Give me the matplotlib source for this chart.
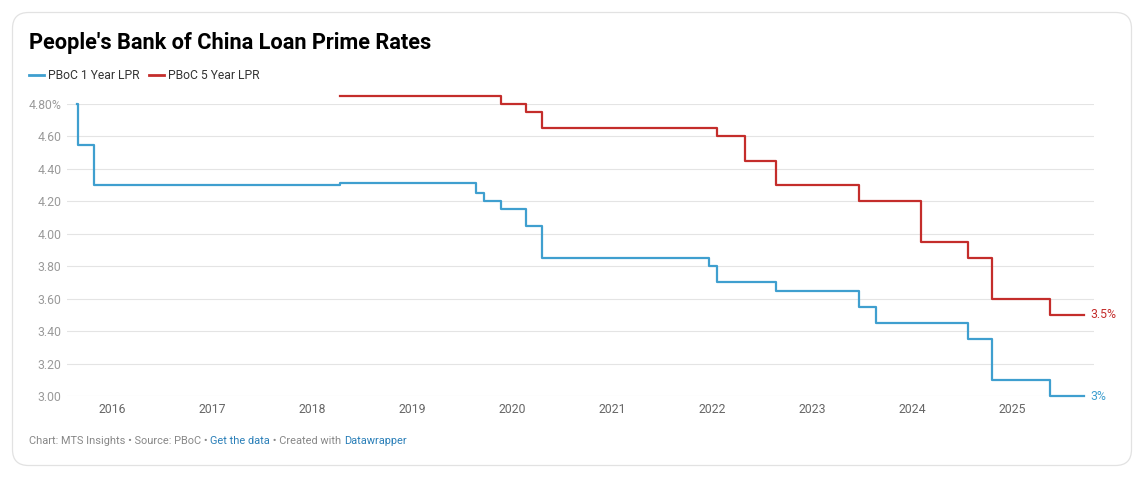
import pandas as pd
import matplotlib
matplotlib.use("Agg")
import matplotlib.pyplot as plt
import matplotlib.dates as mdates
from matplotlib.patches import FancyBboxPatch

plt.rcParams['font.family'] = ['Roboto', 'DejaVu Sans']

# 1 year LPR (step changes)
lpr1_dates = ["2015-08-26", "2015-08-27", "2015-10-24", "2018-04-12", "2019-08-20",
              "2019-09-20", "2019-11-20", "2020-02-20", "2020-04-20", "2021-12-20",
              "2022-01-20", "2022-08-22", "2023-06-20", "2023-08-21", "2024-07-22",
              "2024-10-21", "2025-05-20", "2025-09-22"]
lpr1_rates = [4.80, 4.55, 4.30, 4.31, 4.25, 4.20, 4.15, 4.05, 3.85, 3.80,
              3.70, 3.65, 3.55, 3.45, 3.35, 3.10, 3.00, 3.00]

# 5 year LPR
lpr5_dates = ["2018-04-12", "2019-11-20", "2020-02-20", "2020-04-20", "2022-01-20",
              "2022-05-01", "2022-08-22", "2023-06-20", "2024-02-01", "2024-07-22",
              "2024-10-21", "2025-05-20", "2025-09-22"]
lpr5_rates = [4.85, 4.80, 4.75, 4.65, 4.60, 4.45, 4.30, 4.20, 3.95, 3.85,
              3.60, 3.50, 3.50]

y_ticks = [3.00, 3.20, 3.40, 3.60, 3.80, 4.00, 4.20, 4.40, 4.60, 4.80]
y_labels = ["3.00", "3.20", "3.40", "3.60", "3.80", "4.00", "4.20", "4.40", "4.60", "4.80%"]
years = list(range(2016, 2026))

BLUE = "#3f9fcf"
RED = "#c42d2b"

W, H = 1146, 479
fig = plt.figure(figsize=(W / 100, H / 100), dpi=100)

# overlay in pixel coords for the frame, title, legend, footer
bg = fig.add_axes([0, 0, 1, 1])
bg.set_xlim(0, W)
bg.set_ylim(H, 0)
bg.axis("off")
bg.add_patch(FancyBboxPatch((12.5, 12.5), 1119, 453, boxstyle="round,pad=0,rounding_size=16",
                            fc="white", ec="#e2e2e2", lw=0.9))

bg.text(29, 43, "People's Bank of China Loan Prime Rates", fontsize=15.7, fontweight="bold",
        color="#000000", va="center", ha="left")

# legend
bg.plot([29, 44], [75, 75], color=BLUE, lw=2)
bg.text(48, 75, "PBoC 1 Year LPR", fontsize=8.7, color="#333333", va="center")
bg.plot([149, 164], [75, 75], color=RED, lw=2)
bg.text(168, 75, "PBoC 5 Year LPR", fontsize=8.7, color="#333333", va="center")

# footer with mixed colours
footer = [("Chart: MTS Insights • Source: PBoC • ", "#888888"),
          ("Get the data", "#2a7fb8"),
          (" • Created with ", "#888888"),
          ("Datawrapper", "#2a7fb8")]
fig.canvas.draw()
renderer = fig.canvas.get_renderer()
x = 29
for s, c in footer:
    t = bg.text(x, 441, s, fontsize=7.9, color=c, va="center", ha="left")
    bb = t.get_window_extent(renderer)
    x += bb.width

# main chart
ax = fig.add_axes([67 / W, 1 - 396 / H, (1094 - 67) / W, (396 - 104) / H])
ax.set_facecolor("none")
d1 = pd.to_datetime(lpr1_dates)
d5 = pd.to_datetime(lpr5_dates)
ax.step(d1, lpr1_rates, where="post", color=BLUE, lw=1.6, clip_on=False, zorder=3)
ax.step(d5, lpr5_rates, where="post", color=RED, lw=1.6, clip_on=False, zorder=3)

ax.set_xlim(pd.Timestamp("2015-07-19"), pd.Timestamp("2025-10-27"))
ax.set_ylim(3.0, 4.8)
ax.set_yticks(y_ticks)
ax.set_yticklabels(y_labels)
ax.set_xticks([pd.Timestamp(f"{y}-01-01") for y in years])
ax.xaxis.set_major_formatter(mdates.DateFormatter("%Y"))
ax.grid(axis="y", color="#e4e4e4", lw=0.8)
ax.grid(axis="x", visible=False)
ax.set_axisbelow(True)
for sp in ax.spines.values():
    sp.set_visible(False)
ax.tick_params(axis="y", length=0, pad=4, labelsize=8.8, labelcolor="#9a9a9a")
ax.tick_params(axis="x", length=0, pad=5, labelsize=8.8, labelcolor="#666666")

# end labels
ax.annotate("3.5%", (d5[-1], lpr5_rates[-1]), xytext=(4, 0), textcoords="offset points",
            va="center", ha="left", fontsize=8.8, color=RED, annotation_clip=False)
ax.annotate("3%", (d1[-1], lpr1_rates[-1]), xytext=(4, 0), textcoords="offset points",
            va="center", ha="left", fontsize=8.8, color=BLUE, annotation_clip=False)

fig.savefig("out.png", dpi=100)
